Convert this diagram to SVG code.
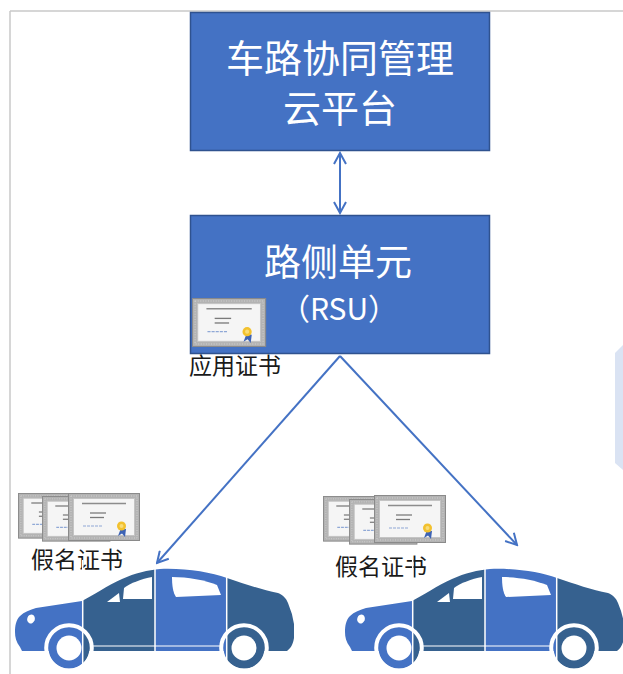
<svg xmlns="http://www.w3.org/2000/svg" xmlns:xlink="http://www.w3.org/1999/xlink" width="623" height="674" viewBox="0 0 623 674">
  <style>
    .box { fill: #4472C4; stroke: #2F528F; stroke-width: 1.5; }
    .boxText { font-family: "Noto Sans CJK SC", "Noto Sans", sans-serif; fill: #FFFFFF; text-anchor: middle; }
    .label { font-family: "Noto Sans CJK SC", "Noto Sans", sans-serif; font-size: 23px; fill: #1A1A1A; }
    .link { stroke: #4472C4; stroke-width: 2; fill: none; }
    .light { fill: #4472C4; }
    .dark { fill: #36618F; }
    .cut { stroke: #FFFFFF; fill: none; }
  </style>
  <defs>
    <marker id="openArrow" viewBox="0 0 14 14" refX="12" refY="7" markerWidth="14" markerHeight="14" markerUnits="userSpaceOnUse" orient="auto-start-reverse">
      <path d="M1 1 L12 7 L1 13" fill="none" stroke="#4472C4" stroke-width="2"/>
    </marker>

    <!-- certificate icon, 72 x 48 -->
    <g id="cert">
      <rect x="0.5" y="0.5" width="71" height="47" fill="#B3B3B3" stroke="#8A8A8A"/>
      <rect x="3" y="3" width="66" height="42" fill="none" stroke="#D0D0D0" stroke-dasharray="1 1.5"/>
      <rect x="5.5" y="5.5" width="61" height="37" fill="#F5F5F5" stroke="#C4C4C4"/>
      <line x1="14" y1="10.5" x2="58" y2="10.5" stroke="#8C8C8C" stroke-width="1.5"/>
      <line x1="22" y1="20" x2="38" y2="20" stroke="#7A7A7A" stroke-width="1.3"/>
      <line x1="22" y1="24.5" x2="36" y2="24.5" stroke="#7A7A7A" stroke-width="1.3"/>
      <line x1="15" y1="33" x2="34" y2="33" stroke="#8FA8D6" stroke-width="1.2" stroke-dasharray="3 1"/>
      <path d="M53 35 L50 43 L54 40.5 L57 44 L58 36 Z" fill="#3D63B5"/>
      <circle cx="53.5" cy="33" r="4.5" fill="#F2C12E"/>
      <circle cx="53.5" cy="33" r="2" fill="#F8DC78"/>
    </g>

    <!-- car silhouette -->
    <clipPath id="carClip">
      <path d="M20 647 C16 642 15 637 15 632 C15 626 16 620 20 616 C24 612 30 610 36 608 L82 601 C92 596 108 585 122 579 C135 573 148 570 160 569 C185 568 210 572 227 578 C245 584 262 590 278 593 C283 595 286 598 288 603 C291 610 293 617 294 624 L294 638 C293 644 291 648 287 651 L22 651 Z"/>
      <circle cx="69" cy="648" r="20.5"/>
      <circle cx="244" cy="648" r="20.5"/>
    </clipPath>
    <g id="car">
      <g clip-path="url(#carClip)">
        <rect class="light" x="0" y="560" width="83" height="114"/>
        <rect class="dark" x="83" y="560" width="72" height="114"/>
        <rect class="light" x="155" y="560" width="72" height="114"/>
        <rect class="dark" x="227" y="560" width="72" height="114"/>
      </g>
      <!-- wheel arches and hubs -->
      <circle class="cut" cx="69" cy="648" r="22.8" stroke-width="4"/>
      <circle class="cut" cx="244" cy="648" r="22.8" stroke-width="4"/>
      <circle cx="69" cy="648" r="12.5" fill="#FFFFFF"/>
      <circle cx="244" cy="648" r="12.5" fill="#FFFFFF"/>
      <!-- windows and lamp -->
      <path d="M107 602 L119 593 L120 602 Z" fill="#FFFFFF"/>
      <path d="M123 599 L124 588 C130 583 142 579 152 577 L152 599 Z" fill="#FFFFFF"/>
      <path d="M172 577 C188 577 205 580 217 585 L221 595 L176 597 C173 593 172 585 172 577 Z" fill="#FFFFFF"/>
      <ellipse cx="31" cy="619" rx="3.8" ry="4.5" transform="rotate(20 31 619)" fill="#FFFFFF"/>
      <!-- panel seams -->
      <line class="cut" x1="82.7" y1="560" x2="82.7" y2="672" stroke-width="1.5"/>
      <line class="cut" x1="155" y1="560" x2="155" y2="672" stroke-width="1.5"/>
      <line class="cut" x1="226.7" y1="560" x2="226.7" y2="672" stroke-width="1.5"/>
      <line class="cut" x1="92" y1="646" x2="221" y2="646" stroke-width="1.2"/>
    </g>
  </defs>

  <rect width="623" height="674" fill="#FFFFFF"/>
  <!-- frame edges -->
  <line x1="10" y1="11" x2="623" y2="11" stroke="#C8C8C8" stroke-width="1.5"/>
  <line x1="10" y1="11" x2="10" y2="674" stroke="#C8C8C8" stroke-width="1.5"/>
  <path d="M615 353 L623 345 L623 470 L615 463 Z" fill="#DAE3F3"/>

  <g id="connectors">
    <line class="link" x1="340" y1="153" x2="340" y2="213" marker-start="url(#openArrow)" marker-end="url(#openArrow)"/>
    <line class="link" x1="340" y1="356" x2="157" y2="563" marker-end="url(#openArrow)"/>
    <line class="link" x1="340" y1="356" x2="517" y2="545" marker-end="url(#openArrow)"/>
  </g>

  <g id="cloud-platform">
    <rect class="box" x="190.5" y="12.5" width="299" height="138"/>
    <text class="boxText" x="340" y="72" font-size="38">车路协同管理</text>
    <text class="boxText" x="340" y="122" font-size="38">云平台</text>
  </g>

  <g id="rsu">
    <rect class="box" x="190.5" y="215.5" width="299" height="138"/>
    <text class="boxText" x="338" y="276" font-size="37">路侧单元</text>
    <text class="boxText" x="339" y="320" font-size="30">（RSU）</text>
    <use xlink:href="#cert" transform="translate(192 298) scale(1.03 1.02)"/>
    <text class="label" x="189" y="374">应用证书</text>
  </g>

  <g id="vehicle-left">
    <use xlink:href="#cert" transform="translate(18 493) scale(0.95)"/>
    <use xlink:href="#cert" transform="translate(42 496) scale(0.95)"/>
    <use xlink:href="#cert" transform="translate(68 493)"/>
    <text class="label" x="31" y="568">假名证书</text>
    <use xlink:href="#car"/>
  </g>

  <g id="vehicle-right">
    <use xlink:href="#cert" transform="translate(323 496) scale(0.95)"/>
    <use xlink:href="#cert" transform="translate(349 499) scale(0.95)"/>
    <use xlink:href="#cert" transform="translate(374 495)"/>
    <text class="label" x="335" y="575">假名证书</text>
    <use xlink:href="#car" transform="translate(330 0)"/>
  </g>
</svg>
